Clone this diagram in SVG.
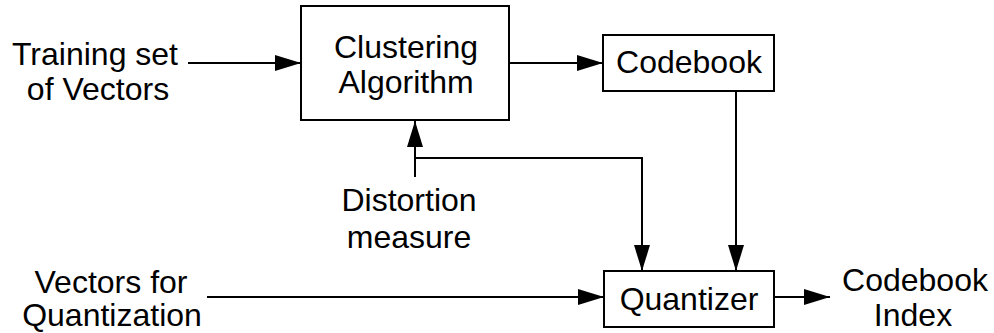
<svg xmlns="http://www.w3.org/2000/svg" width="994" height="333" viewBox="0 0 994 333">
  <style>
    .box { fill: #ffffff; stroke: #000000; stroke-width: 2; }
    .wire { fill: none; stroke: #000000; stroke-width: 2; }
    .lbl { font-family: "Liberation Sans", Arial, sans-serif; font-size: 32px; fill: #000000; text-anchor: middle; }
  </style>
  <defs>
    <marker id="arrow" viewBox="0 0 26 16" refX="26" refY="8" markerWidth="26" markerHeight="16" markerUnits="userSpaceOnUse" orient="auto">
      <path d="M0,0 L26,8 L0,16 Z" fill="#000000"/>
    </marker>
  </defs>
  <rect width="994" height="333" fill="#ffffff"/>

  <g id="connectors">
    <line class="wire" x1="188" y1="63" x2="301" y2="63" marker-end="url(#arrow)"/>
    <line class="wire" x1="509" y1="63" x2="603" y2="63" marker-end="url(#arrow)"/>
    <line class="wire" x1="415" y1="177" x2="415" y2="121" marker-end="url(#arrow)"/>
    <polyline class="wire" points="415,158 642,158 642,271" marker-end="url(#arrow)"/>
    <line class="wire" x1="736" y1="91" x2="736" y2="271" marker-end="url(#arrow)"/>
    <line class="wire" x1="207" y1="297" x2="604" y2="297" marker-end="url(#arrow)"/>
    <line class="wire" x1="774" y1="297" x2="830" y2="297" marker-end="url(#arrow)"/>
  </g>

  <g id="training-set">
    <text class="lbl" x="95" y="65">Training set</text>
    <text class="lbl" x="98" y="100">of Vectors</text>
  </g>

  <g id="clustering">
    <rect class="box" x="301" y="6" width="208" height="114"/>
    <text class="lbl" x="406" y="58">Clustering</text>
    <text class="lbl" x="406" y="93">Algorithm</text>
  </g>

  <g id="codebook">
    <rect class="box" x="603" y="35" width="171" height="56"/>
    <text class="lbl" x="689" y="73">Codebook</text>
  </g>

  <g id="distortion">
    <text class="lbl" x="409" y="211">Distortion</text>
    <text class="lbl" x="409" y="248">measure</text>
  </g>

  <g id="vectors-for-quantization">
    <text class="lbl" x="111" y="293">Vectors for</text>
    <text class="lbl" x="112" y="326">Quantization</text>
  </g>

  <g id="quantizer">
    <rect class="box" x="604" y="271" width="170" height="56"/>
    <text class="lbl" x="689" y="310">Quantizer</text>
  </g>

  <g id="codebook-index">
    <text class="lbl" x="915" y="291">Codebook</text>
    <text class="lbl" x="913" y="326">Index</text>
  </g>
</svg>
